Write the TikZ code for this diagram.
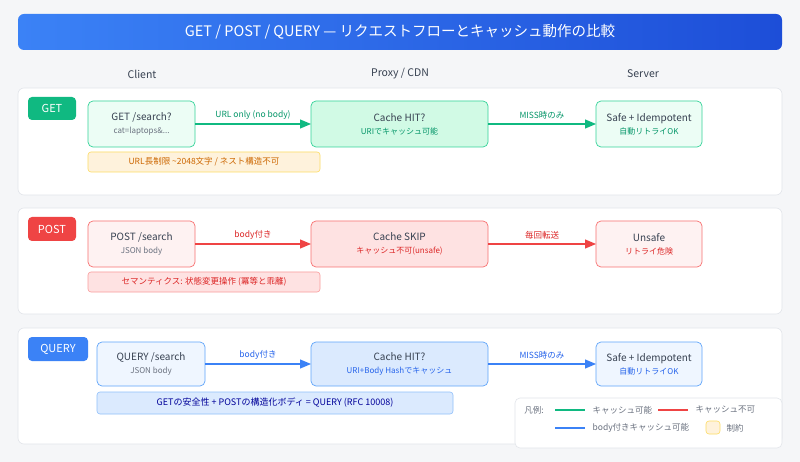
\documentclass[tikz,border=0pt]{standalone}
\usepackage{fontspec}
\setmainfont{Noto Sans CJK JP}
\usetikzlibrary{arrows.meta}
\definecolor{bg}{HTML}{F5F6F8}
\definecolor{gs}{HTML}{34D399}\definecolor{gf}{HTML}{ECFDF5}\definecolor{gp}{HTML}{D1FAE5}\definecolor{gt}{HTML}{059669}\definecolor{ga}{HTML}{10B981}
\definecolor{rs}{HTML}{F87171}\definecolor{rf}{HTML}{FEF2F2}\definecolor{rp}{HTML}{FEE2E2}\definecolor{rt}{HTML}{DC2626}\definecolor{ra}{HTML}{EF4444}
\definecolor{bs}{HTML}{60A5FA}\definecolor{bf}{HTML}{EFF6FF}\definecolor{bp}{HTML}{DBEAFE}\definecolor{bt}{HTML}{2563EB}\definecolor{ba}{HTML}{3B82F6}
\definecolor{tx}{HTML}{374151}\definecolor{st}{HTML}{6B7280}\definecolor{pb}{HTML}{E2E5EA}
\definecolor{bd}{HTML}{1D4ED8}
\newcommand{\subt}[1]{{\color{#1}\fontsize{8}{10}\selectfont}}
\begin{document}
\begin{tikzpicture}[x=1pt,y=-1pt,
 panel/.style={draw=pb,fill=white,rounded corners=6pt,line width=0.6pt},
 tag/.style={rounded corners=4pt,text=white,font=\fontsize{11}{13}\selectfont},
 box/.style={rounded corners=5pt,line width=0.7pt,align=center,text=tx,font=\fontsize{10}{14}\selectfont},
 note/.style={rounded corners=3pt,line width=0.6pt,font=\fontsize{8.5}{10}\selectfont},
 arr/.style={-{Triangle[length=11pt,width=9pt]},line width=1.1pt},
 lab/.style={font=\fontsize{8.5}{10}\selectfont,above,yshift=1pt},
 hdr/.style={font=\fontsize{10.5}{12}\selectfont,text=tx}]
\fill[bg] (0,0) rectangle (800,462);
\useasboundingbox (0,0) rectangle (800,462);
\shade[rounded corners=6pt,left color=ba,right color=bd] (18,14) rectangle (782,50);
\node[text=white,font=\fontsize{14.5}{16}\selectfont] (title) at (400,32) {GET / POST / QUERY — リクエストフローとキャッシュ動作の比較};
\node[hdr] (h1) at (142,74) {Client};
\node[hdr] (h2) at (400,74) {Proxy / CDN};
\node[hdr] (h3) at (643,74) {Server};
% panels
\draw[panel] (18,88) rectangle (782,195);
\draw[panel] (18,208) rectangle (782,314);
\draw[panel] (18,328) rectangle (782,444);
% GET
\fill[ga,rounded corners=4pt] (28,97) rectangle (76,120); \node[tag] (tg) at (52,108.5) {GET};
\draw[box,draw=gs,fill=gf] (88,101) rectangle (195,147);
\node[box] (gc) at (141.5,124) {GET /search?\\[-1pt]{\color{st}\fontsize{8}{10}\selectfont cat=laptops\&...}};
\draw[box,draw=gs,fill=gp] (311,101) rectangle (488,147);
\node[box] (gp) at (399.5,124) {Cache HIT?\\[-1pt]{\color{gt}\fontsize{8}{10}\selectfont URIでキャッシュ可能}};
\draw[box,draw=gs,fill=gf] (596,101) rectangle (702,147);
\node[box] (gs) at (649,124) {Safe + Idempotent\\[-1pt]{\color{gt}\fontsize{8}{10}\selectfont 自動リトライOK}};
\draw[arr,ga] (195,124) -- node[lab,text=gt]{URL only (no body)} (311,124);
\draw[arr,ga] (488,124) -- node[lab,text=gt]{MISS時のみ} (596,124);
\draw[note,draw=yellow!60!orange!60,fill=yellow!25!orange!12] (88,152) rectangle (320,172);
\node[note,text=orange!80!black] (gn) at (204,162) {URL長制限 \textasciitilde2048文字 / ネスト構造不可};
% POST
\fill[ra,rounded corners=4pt] (28,217) rectangle (76,241); \node[tag] (tp) at (52,229) {POST};
\draw[box,draw=rs,fill=rf] (88,221) rectangle (195,267);
\node[box] (pc) at (141.5,244) {POST /search\\[-1pt]{\color{st}\fontsize{8}{10}\selectfont JSON body}};
\draw[box,draw=rs,fill=rp] (311,221) rectangle (488,267);
\node[box] (pp) at (399.5,244) {Cache SKIP\\[-1pt]{\color{rt}\fontsize{8}{10}\selectfont キャッシュ不可(unsafe)}};
\draw[box,draw=rs,fill=rf] (596,221) rectangle (702,267);
\node[box] (ps) at (649,244) {Unsafe\\[-1pt]{\color{rt}\fontsize{8}{10}\selectfont リトライ危険}};
\draw[arr,ra] (195,244) -- node[lab,text=rt]{body付き} (311,244);
\draw[arr,ra] (488,244) -- node[lab,text=rt]{毎回転送} (596,244);
\draw[note,draw=rs!70,fill=rp] (88,272) rectangle (320,292);
\node[note,text=rt] (pn) at (204,282) {セマンティクス: 状態変更操作 (冪等と乖離)};
% QUERY
\fill[ba,rounded corners=4pt] (28,337) rectangle (88,361); \node[tag] (tq) at (58,349) {QUERY};
\draw[box,draw=bs,fill=bf] (97,342) rectangle (205,386);
\node[box] (qc) at (151,364) {QUERY /search\\[-1pt]{\color{st}\fontsize{8}{10}\selectfont JSON body}};
\draw[box,draw=bs,fill=bp] (311,342) rectangle (488,386);
\node[box] (qp) at (399.5,364) {Cache HIT?\\[-1pt]{\color{bt}\fontsize{8}{10}\selectfont URI+Body Hashでキャッシュ}};
\draw[box,draw=bs,fill=bf] (596,342) rectangle (702,386);
\node[box] (qs) at (649,364) {Safe + Idempotent\\[-1pt]{\color{bt}\fontsize{8}{10}\selectfont 自動リトライOK}};
\draw[arr,ba] (205,364) -- node[lab,text=bt]{body付き} (311,364);
\draw[arr,ba] (488,364) -- node[lab,text=bt]{MISS時のみ} (596,364);
\draw[note,draw=bs!70,fill=bp] (97,392) rectangle (453,414);
\node[note,text=blue!60!black,font=\fontsize{9}{11}\selectfont] (qn) at (275,403) {GETの安全性 + POSTの構造化ボディ = QUERY (RFC 10008)};
% legend
\draw[panel,rounded corners=5pt] (515,398) rectangle (782,448);
\node[note,text=st] (l0) at (534,410) {凡例:};
\draw[line width=1.2pt,ga] (555,410) -- (585,410);
\node[note,text=st,anchor=west] (l1) at (589,410) {キャッシュ可能};
\draw[line width=1.2pt,ra] (658,410) -- (688,410);
\node[note,text=st,anchor=west] (l2) at (692,410) {キャッシュ不可};
\draw[line width=1.2pt,ba] (555,428) -- (585,428);
\node[note,text=st,anchor=west] (l3) at (589,428) {body付きキャッシュ可能};
\draw[note,draw=yellow!60!orange!60,fill=yellow!25!orange!12] (706,421) rectangle (720,434);
\node[note,text=st,anchor=west] (l4) at (723,428) {制約};
\end{tikzpicture}
\end{document}
